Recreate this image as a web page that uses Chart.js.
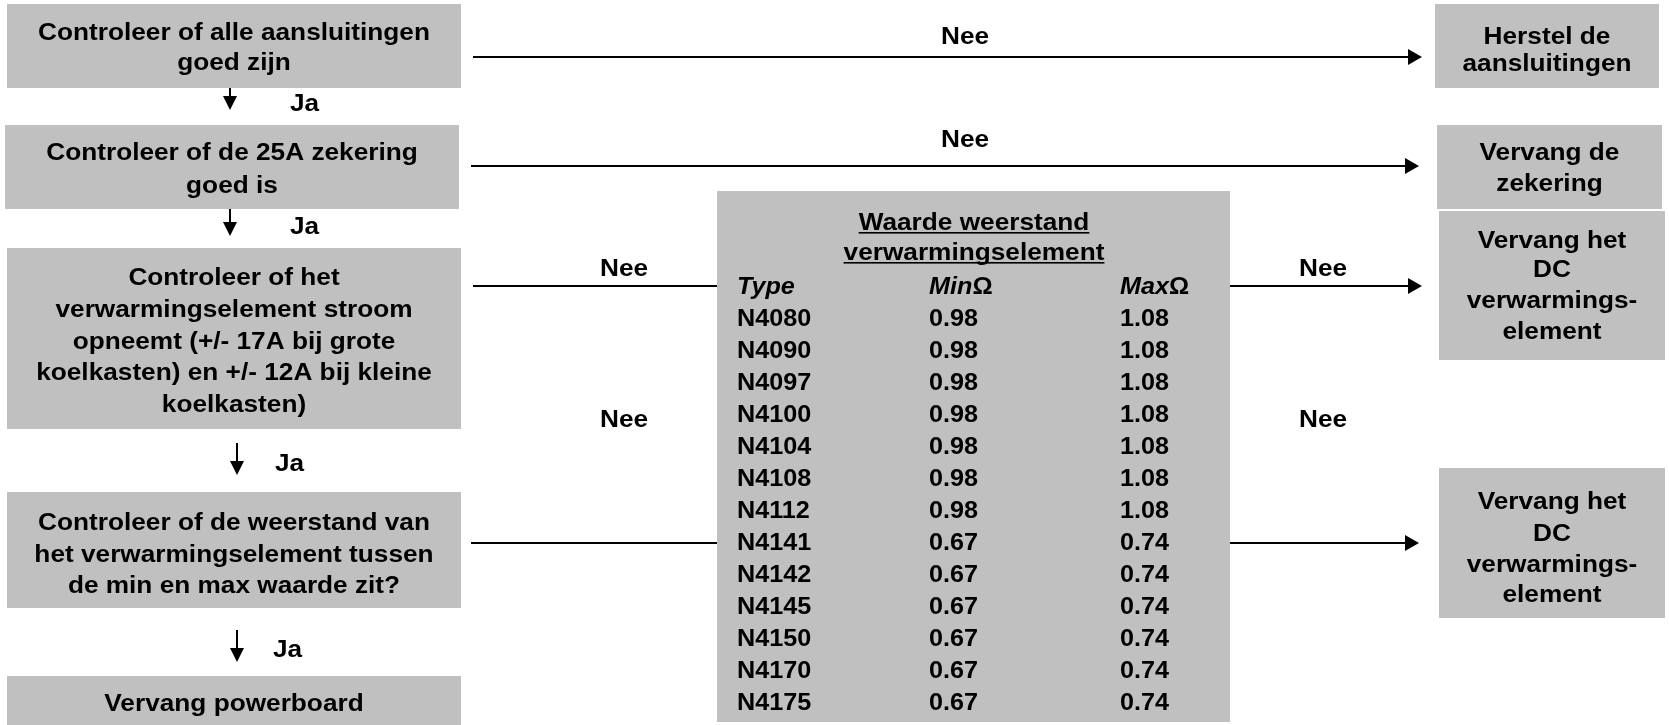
<!DOCTYPE html>
<html lang="nl">
<head>
<meta charset="utf-8">
<title>Stroomschema verwarmingselement</title>
<script src="https://cdn.jsdelivr.net/npm/chart.js@4"></script>
<style>
  html, body { margin: 0; padding: 0; background: #fff; }
  #wrap { position: relative; width: 1669px; height: 725px; }
</style>
</head>
<body>
<div id="wrap"><canvas id="flow"></canvas></div>
<script>
// ===== Data =====
const steps = [
  ['Controleer of alle aansluitingen', 'goed zijn'],
  ['Controleer of de 25A zekering', 'goed is'],
  ['Controleer of het', 'verwarmingselement stroom', 'opneemt (+/- 17A bij grote', 'koelkasten) en +/- 12A bij kleine', 'koelkasten)'],
  ['Controleer of de weerstand van', 'het verwarmingselement tussen', 'de min en max waarde zit?'],
  ['Vervang powerboard']
];
const outcomes = [
  ['Herstel de', 'aansluitingen'],
  ['Vervang de', 'zekering'],
  ['Vervang het', 'DC', 'verwarmings-', 'element'],
  ['Vervang het', 'DC', 'verwarmings-', 'element']
];
const yesLabel = 'Ja';
const noLabel = 'Nee';
const tableTitle = ['Waarde weerstand', 'verwarmingselement'];
const columnHeads = ['Type', 'Min', 'Max'];
const unit = 'Ω';
const types = ['N4080', 'N4090', 'N4097', 'N4100', 'N4104', 'N4108', 'N4112',
               'N4141', 'N4142', 'N4145', 'N4150', 'N4170', 'N4175'];
const minOhm = [0.98, 0.98, 0.98, 0.98, 0.98, 0.98, 0.98, 0.67, 0.67, 0.67, 0.67, 0.67, 0.67];
const maxOhm = [1.08, 1.08, 1.08, 1.08, 1.08, 1.08, 1.08, 0.74, 0.74, 0.74, 0.74, 0.74, 0.74];

// ===== Layout (scale units = page pixels) =====
const layout = {
  steps: [
    { box: [7, 4, 461, 88],    base: [40, 70] },
    { box: [5, 125, 459, 209], base: [160, 193] },
    { box: [7, 248, 461, 429], base: [285, 317, 349, 380, 412] },
    { box: [7, 492, 461, 608], base: [530, 562, 593] },
    { box: [7, 676, 461, 725], base: [711] }
  ],
  outcomes: [
    { box: [1435, 4, 1659, 88],    base: [44, 71] },
    { box: [1437, 125, 1662, 209], base: [160, 191] },
    { box: [1439, 211, 1665, 360], base: [248, 277, 308, 339] },
    { box: [1439, 468, 1665, 618], base: [509, 541, 572, 602] }
  ],
  down: [
    { x: 230, y0: 88,  y1: 110, label: [290, 111] },
    { x: 230, y0: 209, y1: 236, label: [290, 234] },
    { x: 237, y0: 443, y1: 475, label: [275, 471] },
    { x: 237, y0: 630, y1: 662, label: [273, 657] }
  ],
  across: [
    { x0: 473,  x1: 1422, y: 57,  head: true,  label: [965, 44] },
    { x0: 471,  x1: 1419, y: 166, head: true,  label: [965, 147] },
    { x0: 473,  x1: 717,  y: 286, head: false, label: [624, 276] },
    { x0: 1230, x1: 1422, y: 286, head: true,  label: [1323, 276] },
    { x0: 471,  x1: 717,  y: 543, head: false, label: [624, 427] },
    { x0: 1230, x1: 1419, y: 543, head: true,  label: [1323, 427] }
  ],
  table: { box: [717, 191, 1230, 722], titleX: 974, titleBase: [230, 260],
           cols: [737, 929, 1120], headBase: 294, rowStep: 32 }
};

const FILL = '#c0c0c0';
const FONT = '"Liberation Sans", Arial, sans-serif';
const boxText = { font: 'bold 23px ' + FONT, sx: 1.14 };
const cellText = { font: 'bold 24px ' + FONT, sx: 1.05 };
const headText = { font: 'italic bold 24px ' + FONT, sx: 1.05 };

// ===== Drawing helpers =====
function drawText(ctx, str, px, py, style, align = 'center') {
  ctx.save();
  ctx.font = style.font;
  ctx.fillStyle = '#000';
  ctx.textBaseline = 'alphabetic';
  ctx.textAlign = align;
  ctx.translate(px, py);
  ctx.scale(style.sx, 1);
  ctx.fillText(str, 0, 0);
  const w = ctx.measureText(str).width * style.sx;
  ctx.restore();
  return w;
}

function arrowHead(ctx, x, y, dir) {
  ctx.beginPath();
  if (dir === 'down') {
    ctx.moveTo(x, y); ctx.lineTo(x - 7, y - 14); ctx.lineTo(x + 7, y - 14);
  } else {
    ctx.moveTo(x, y); ctx.lineTo(x - 14, y - 8); ctx.lineTo(x - 14, y + 8);
  }
  ctx.closePath();
  ctx.fill();
}

const flowPlugin = {
  id: 'flow',
  afterDraw(chart) {
    const { ctx, scales: { x, y } } = chart;
    const X = v => x.getPixelForValue(v);
    const Y = v => y.getPixelForValue(v);

    const box = (b, lines, bases) => {
      ctx.fillStyle = FILL;
      ctx.fillRect(X(b[0]), Y(b[1]), X(b[2]) - X(b[0]), Y(b[3]) - Y(b[1]));
      const cx = X((b[0] + b[2]) / 2);
      lines.forEach((ln, i) => drawText(ctx, ln, cx, Y(bases[i]), boxText));
    };

    steps.forEach((lines, i) => box(layout.steps[i].box, lines, layout.steps[i].base));
    outcomes.forEach((lines, i) => box(layout.outcomes[i].box, lines, layout.outcomes[i].base));

    // connectors
    ctx.save();
    ctx.strokeStyle = '#000';
    ctx.fillStyle = '#000';
    ctx.lineWidth = 2;
    layout.down.forEach(a => {
      ctx.beginPath();
      ctx.moveTo(X(a.x), Y(a.y0));
      ctx.lineTo(X(a.x), Y(a.y1) - 10);
      ctx.stroke();
      arrowHead(ctx, X(a.x), Y(a.y1), 'down');
    });
    layout.across.forEach(a => {
      ctx.beginPath();
      ctx.moveTo(X(a.x0), Y(a.y));
      ctx.lineTo(X(a.x1) - (a.head ? 10 : 0), Y(a.y));
      ctx.stroke();
      if (a.head) arrowHead(ctx, X(a.x1), Y(a.y), 'right');
    });
    ctx.restore();

    layout.down.forEach(a => drawText(ctx, yesLabel, X(a.label[0]), Y(a.label[1]), boxText, 'left'));
    layout.across.forEach(a => drawText(ctx, noLabel, X(a.label[0]), Y(a.label[1]), boxText));

    // resistance table
    const t = layout.table;
    ctx.fillStyle = FILL;
    ctx.fillRect(X(t.box[0]), Y(t.box[1]), X(t.box[2]) - X(t.box[0]), Y(t.box[3]) - Y(t.box[1]));
    tableTitle.forEach((ln, i) => {
      const w = drawText(ctx, ln, X(t.titleX), Y(t.titleBase[i]), boxText);
      ctx.fillStyle = '#000';
      ctx.fillRect(X(t.titleX) - w / 2, Y(t.titleBase[i]) + 2, w, 1.6);
    });
    columnHeads.forEach((h, c) => {
      const w = drawText(ctx, h, X(t.cols[c]), Y(t.headBase), headText, 'left');
      if (c > 0) drawText(ctx, unit, X(t.cols[c]) + w, Y(t.headBase), cellText, 'left');
    });
    types.forEach((tp, r) => {
      const by = Y(t.headBase + t.rowStep * (r + 1));
      drawText(ctx, tp, X(t.cols[0]), by, cellText, 'left');
      drawText(ctx, minOhm[r].toFixed(2), X(t.cols[1]), by, cellText, 'left');
      drawText(ctx, maxOhm[r].toFixed(2), X(t.cols[2]), by, cellText, 'left');
    });
  }
};

new Chart(document.getElementById('flow'), {
  type: 'scatter',
  data: { datasets: [] },
  options: {
    responsive: true, maintainAspectRatio: false, animation: false,
    layout: { padding: 0 },
    plugins: { legend: { display: false }, tooltip: { enabled: false } },
    scales: {
      x: { type: 'linear', min: 0, max: 1669, display: false },
      y: { type: 'linear', min: 0, max: 725, reverse: true, display: false }
    }
  },
  plugins: [flowPlugin]
});
</script>
</body>
</html>
